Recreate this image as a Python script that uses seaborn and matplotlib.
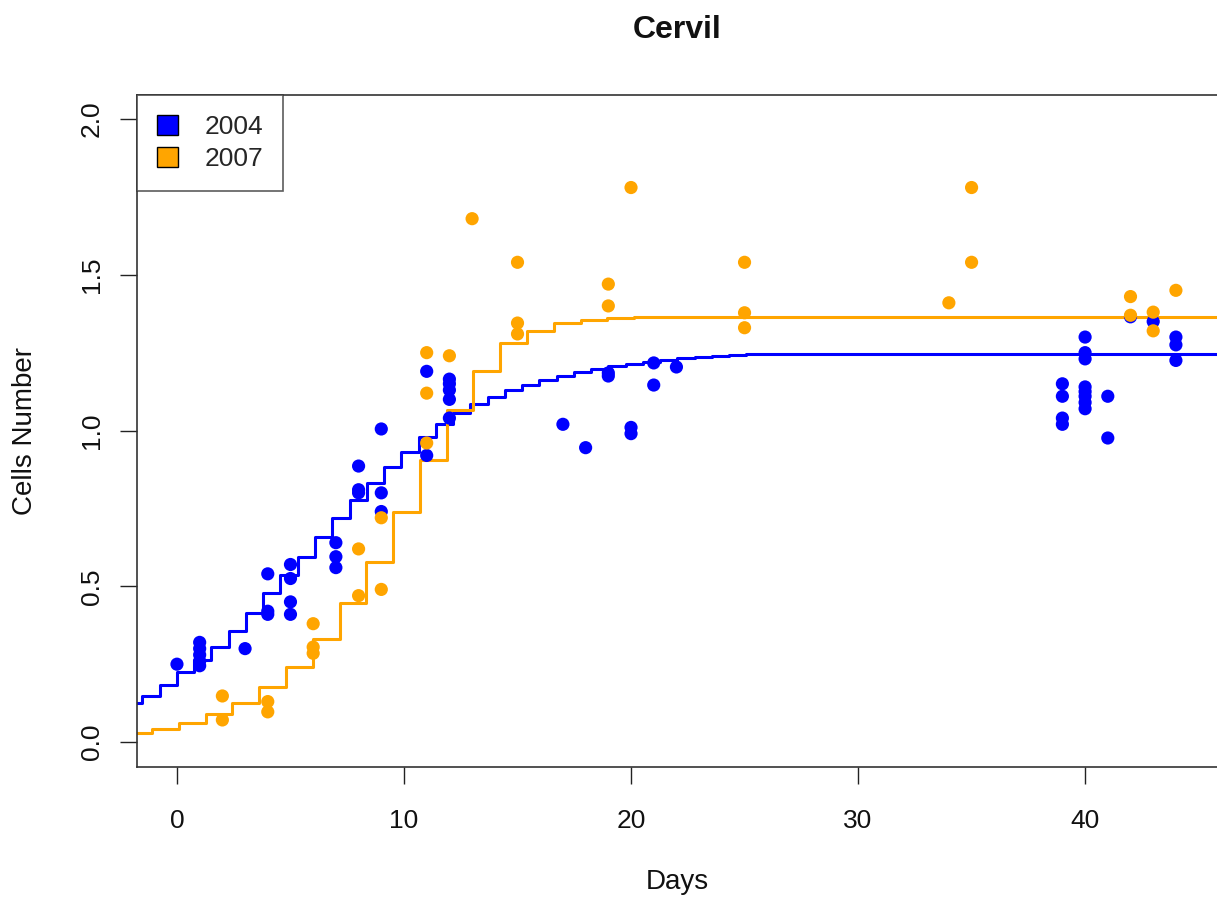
import matplotlib
matplotlib.use("Agg")
import matplotlib.pyplot as plt
from matplotlib.patches import Patch
import seaborn as sns
import pandas as pd

sns.set_theme(style="white")
plt.rcParams['font.family'] = ['Liberation Sans', 'DejaVu Sans']

# observed points
days_2004 = [0, 1, 1, 1, 1, 1, 3, 4, 4, 4, 5, 5, 5, 5, 7, 7, 7, 8, 8, 8, 9, 9, 9,
             11, 11, 12, 12, 12, 12, 12, 17, 18, 19, 19, 20, 20, 21, 21, 22,
             39, 39, 39, 39, 40, 40, 40, 40, 40, 40, 40, 40, 41, 41, 42, 43, 44, 44, 44]
cells_2004 = [0.25, 0.32, 0.30, 0.28, 0.26, 0.245, 0.30, 0.54, 0.42, 0.41, 0.57, 0.525, 0.45, 0.41,
              0.64, 0.595, 0.56, 0.886, 0.81, 0.80, 1.005, 0.80, 0.74,
              1.19, 0.92, 1.165, 1.15, 1.13, 1.10, 1.04, 1.02, 0.945, 1.185, 1.175, 1.01, 0.99,
              1.217, 1.146, 1.204,
              1.15, 1.11, 1.04, 1.02, 1.30, 1.25, 1.23, 1.14, 1.125, 1.11, 1.09, 1.07,
              1.11, 0.976, 1.365, 1.35, 1.30, 1.275, 1.225]
days_2007 = [2, 2, 4, 4, 6, 6, 6, 8, 8, 9, 9, 11, 11, 11, 12, 13, 15, 15, 15,
             19, 19, 20, 25, 25, 25, 34, 35, 35, 42, 42, 43, 43, 44]
cells_2007 = [0.148, 0.071, 0.13, 0.097, 0.38, 0.305, 0.285, 0.62, 0.47, 0.72, 0.49,
              1.25, 1.12, 0.96, 1.24, 1.68, 1.54, 1.345, 1.31,
              1.47, 1.40, 1.78, 1.54, 1.378, 1.33, 1.41, 1.78, 1.54, 1.43, 1.37, 1.38, 1.32, 1.45]

# fitted curves (step levels)
fit_days_2004 = [-2.28, -1.52, -0.76, 0.00, 0.76, 1.52, 2.28, 3.04, 3.80, 4.56, 5.32, 6.08,
                 6.84, 7.60, 8.36, 9.12, 9.88, 10.64, 11.40, 12.16, 12.92, 13.68, 14.44,
                 15.20, 15.96, 16.72, 17.48, 18.24, 19.00, 19.76, 20.52, 21.28, 22.04,
                 22.80, 23.56, 24.32, 25.08, 25.84, 48.0]
fit_cells_2004 = [0.125, 0.148, 0.183, 0.225, 0.263, 0.305, 0.355, 0.415, 0.478, 0.536, 0.594, 0.658,
                  0.72, 0.777, 0.83, 0.883, 0.93, 0.98, 1.02, 1.055, 1.085, 1.108, 1.13,
                  1.146, 1.162, 1.175, 1.187, 1.197, 1.206, 1.214, 1.221, 1.227, 1.232,
                  1.236, 1.24, 1.243, 1.245, 1.247, 1.247]
fit_days_2007 = [-2.28, -1.10, 0.08, 1.26, 2.44, 3.62, 4.80, 5.98, 7.16, 8.34, 9.52, 10.70,
                 11.88, 13.06, 14.24, 15.42, 16.60, 17.78, 18.96, 20.14, 48.0]
fit_cells_2007 = [0.03, 0.043, 0.062, 0.09, 0.125, 0.176, 0.242, 0.33, 0.446, 0.578, 0.74, 0.905,
                  1.065, 1.19, 1.28, 1.32, 1.345, 1.355, 1.36, 1.363, 1.365]

years = ["2004", "2007"]
colors = {"2004": "#0000FF", "2007": "#FFA500"}

pts = pd.concat([
    pd.DataFrame({"day": days_2004, "cells": cells_2004, "year": "2004"}),
    pd.DataFrame({"day": days_2007, "cells": cells_2007, "year": "2007"}),
], ignore_index=True)
fit = pd.concat([
    pd.DataFrame({"day": fit_days_2004, "cells": fit_cells_2004, "year": "2004"}),
    pd.DataFrame({"day": fit_days_2007, "cells": fit_cells_2007, "year": "2007"}),
], ignore_index=True)

fig = plt.figure(figsize=(12.17, 8.99), dpi=100)
ax = fig.add_axes([137 / 1217, (899 - 767) / 899, (1217 - 137) / 1217, (767 - 95) / 899])

sns.lineplot(data=fit, x="day", y="cells", hue="year", palette=colors, hue_order=years,
             drawstyle="steps-post", linewidth=2.2, estimator=None, legend=False, ax=ax)
sns.scatterplot(data=pts, x="day", y="cells", hue="year", palette=colors, hue_order=years,
                s=90, linewidth=0, legend=False, ax=ax, zorder=3)

ax.set_xlim(-1.76, 45.81)
ax.set_ylim(-0.080, 2.077)
ax.set_xticks([0, 10, 20, 30, 40])
ax.set_yticks([0.0, 0.5, 1.0, 1.5, 2.0])
ax.set_yticklabels(["0.0", "0.5", "1.0", "1.5", "2.0"], rotation=90, va="center")
ax.tick_params(axis="both", direction="out", length=12, width=1.0, color="#222222",
               labelsize=19, labelcolor="#111111")
ax.tick_params(axis="x", pad=18)
ax.tick_params(axis="y", pad=12)
ax.tick_params(bottom=True, left=True)
for side in ["left", "bottom", "top"]:
    ax.spines[side].set_color("#333333")
    ax.spines[side].set_linewidth(1.2)
ax.spines["right"].set_visible(False)

ax.set_xlabel("Days", fontsize=20, color="#111111")
ax.set_ylabel("Cells Number", fontsize=20, color="#111111")
ax.xaxis.set_label_coords((677 - 137) / 1080, (767 - 882) / 672)
ax.xaxis.label.set_va("center")
ax.yaxis.set_label_coords((25 - 137) / 1080, 0.5)
ax.yaxis.label.set_va("center")
fig.text(677 / 1217, 1 - 30 / 899, "Cervil", ha="center", va="center",
         fontsize=23, fontweight="bold", color="#111111")

handles = [Patch(facecolor=colors[y], edgecolor="black", linewidth=1.0) for y in years]
leg = ax.legend(handles, years, loc="upper left", bbox_to_anchor=(0, 1), fontsize=19,
                frameon=True, fancybox=False, borderpad=0.75, handlelength=0.8,
                handleheight=0.8, handletextpad=1.0, labelspacing=0.3, borderaxespad=0)
leg.get_frame().set_edgecolor("#333333")
leg.get_frame().set_linewidth(1.2)

fig.savefig("out.png", dpi=100, facecolor="white")
